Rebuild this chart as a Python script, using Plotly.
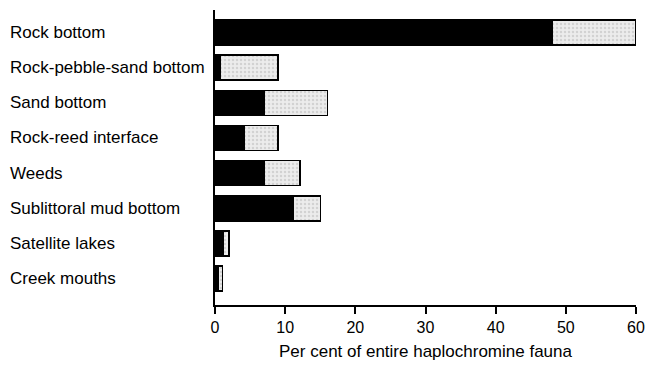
import plotly.graph_objects as go

# Habitats, listed bottom to top on the category axis
habitats = [
    "Creek mouths",
    "Satellite lakes",
    "Sublittoral mud bottom",
    "Weeds",
    "Rock-reed interface",
    "Sand bottom",
    "Rock-pebble-sand bottom",
    "Rock bottom",
]
# Per cent of entire haplochromine fauna: endemic part (black) and remainder (stippled)
endemic = [0.4, 1.2, 11.1, 7.0, 4.2, 7.0, 0.7, 48.0]
total = [1.1, 2.0, 15.0, 12.1, 9.0, 16.0, 9.0, 60.0]
remainder = [t - e for t, e in zip(total, endemic)]
x_ticks = [0, 10, 20, 30, 40, 50, 60]

FONT = "Liberation Sans, Arial, sans-serif"

fig = go.Figure()
fig.add_trace(go.Bar(
    y=habitats, x=endemic, orientation="h",
    marker=dict(color="black", line=dict(color="black", width=1.5)),
    showlegend=False,
))
fig.add_trace(go.Bar(
    y=habitats, x=remainder, orientation="h",
    marker=dict(
        color="#e6e6e6",
        line=dict(color="black", width=1.5),
        pattern=dict(shape=".", fgcolor="#b8b8b8", bgcolor="#ececec", size=4, solidity=0.3),
    ),
    showlegend=False,
))

# Left-aligned category labels
for h in habitats:
    fig.add_annotation(
        x=0, xref="paper", xshift=-207, xanchor="left",
        y=h, yref="y", yanchor="middle",
        text=h, showarrow=False,
        font=dict(family=FONT, size=17, color="black"),
    )

fig.update_layout(
    barmode="stack",
    bargap=0.29,
    width=647, height=365,
    margin=dict(l=215, r=11, t=10, b=60),
    paper_bgcolor="white", plot_bgcolor="white",
    font=dict(family=FONT, size=17, color="black"),
    xaxis=dict(
        range=[0, 60], tickvals=x_ticks, ticks="outside", ticklen=7,
        tickwidth=1.5, tickcolor="black",
        showline=True, linecolor="black", linewidth=1.5,
        showgrid=False, zeroline=False, automargin=False,
        title=dict(text="Per cent of entire haplochromine fauna", standoff=10,
                   font=dict(family=FONT, size=17)),
        tickfont=dict(family=FONT, size=16),
    ),
    yaxis=dict(
        type="category", categoryorder="array", categoryarray=habitats,
        range=[-0.75, 7.64], showticklabels=False, ticks="",
        showline=True, linecolor="black", linewidth=2,
        showgrid=False, zeroline=False, automargin=False,
    ),
)

fig.write_html("out.html")
